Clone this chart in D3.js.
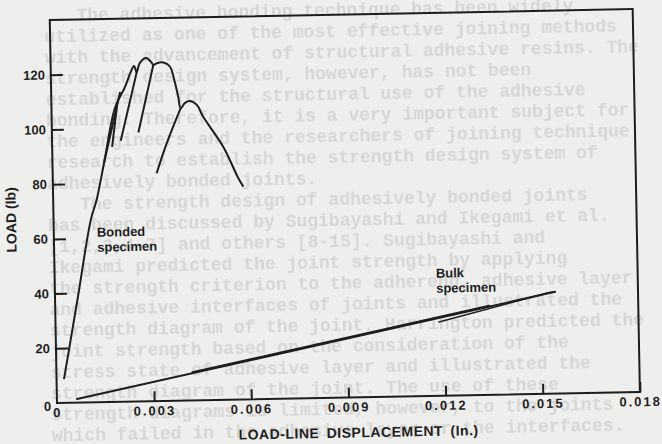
<!DOCTYPE html>
<html>
<head>
<meta charset="utf-8">
<script src="https://cdn.jsdelivr.net/npm/d3@7"></script>
<style>
  body { margin: 0; background: #eeeeec; }
  svg { display: block; }
</style>
</head>
<body>
<div id="chart"></div>
<script>
// axis ticks
var xTicks = [0, 0.003, 0.006, 0.009, 0.012, 0.015, 0.018];
var xTickLabels = ["0", "0.003", "0.006", "0.009", "0.012", "0.015", "0.018"];
var yTicks = [0, 20, 40, 60, 80, 100, 120];
var yTickLabels = ["0", "20", "40", "60", "80", "100", "120"];

// bonded specimen: displacement (in.), load (lb)
var bondedCurve = [
  [0.00023, 8.7], [0.00069, 37.5], [0.00115, 66.7], [0.00134, 73.9], [0.00159, 87.3],
  [0.00196, 107.4], [0.00228, 115.0], [0.00248, 120.8], [0.00257, 122.6], [0.00263, 120.9],
  [0.00265, 120.2], [0.00276, 123.8], [0.00295, 125.5], [0.00312, 123.7], [0.00317, 122.9],
  [0.00328, 123.5], [0.00348, 123.7], [0.00368, 122.2], [0.00383, 116.1], [0.00392, 111.1],
  [0.00399, 106.9], [0.00412, 108.7], [0.00428, 109.5], [0.00449, 108.0], [0.00468, 103.6],
  [0.00528, 92.5], [0.00573, 80.9], [0.00588, 77.8]
];
var bondedBranch1 = [[0.00212, 95.4], [0.00265, 120.2]];
var bondedBranch2 = [[0.00267, 98.3], [0.00317, 122.9]];
var bondedBranch3 = [[0.00321, 83.3], [0.00354, 94.2], [0.00399, 106.9]];
var bondedBranch4 = [[0.00159, 87.4], [0.00213, 113.2]];
var bondedBranch5 = [[0.00185, 93.2], [0.00203, 108.5]];

// bulk specimen
var bulkCurve1 = [[0.00062, 1.3], [0.01544, 37.2]];
var bulkCurve2 = [[0.01184, 27.0], [0.01519, 36.8], [0.01535, 37.1]];
var bulkCurve3 = [[0.0042, 10.3], [0.0134, 32.6]];

// page text showing under the figure
var pageLines = [
  "   The adhesive bonding technique has been widely",
  "utilized as one of the most effective joining methods",
  "with the advancement of structural adhesive resins. The",
  "strength design system, however, has not been",
  "established for the structural use of the adhesive",
  "bonding. Therefore, it is a very important subject for",
  "the engineers and the researchers of joining technique",
  "research to establish the strength design system of",
  "adhesively bonded joints.",
  "   The strength design of adhesively bonded joints",
  "has been discussed by Sugibayashi and Ikegami et al.",
  "[1,2,3,4-7] and others [8-15]. Sugibayashi and",
  "Ikegami predicted the joint strength by applying",
  "the strength criterion to the adherend, adhesive layer",
  "and adhesive interfaces of joints and illustrated the",
  "strength diagram of the joint. Harrington predicted the",
  "joint strength based on the consideration of the",
  "stress state of adhesive layer and illustrated the",
  "strength diagram of the joint. The use of these",
  "strength diagrams is limited, however, to the joints",
  "which failed in the adhesive layer or the interfaces."
];

var width = 662;
var height = 444;
var originX = 57;
var originY = 403;
var plotW = 583;
var plotH = 383;
var tilt = -1.08;
var ink = "#1e1e1e";
var sans = '"Liberation Sans", Arial, Helvetica, sans-serif';

var svg = d3.select('#chart')
  .append('svg')
  .attr('width', width)
  .attr('height', height);

svg.append('defs')
  .append('filter')
  .attr('id', 'soft')
  .append('feGaussianBlur')
  .attr('stdDeviation', 0.5);

svg.append('rect')
  .attr('width', width)
  .attr('height', height)
  .attr('fill', '#eeeeec');

svg.append('g')
  .attr('transform', 'rotate(' + tilt + ' 331 222)')
  .attr('filter', 'url(#soft)')
  .selectAll('text')
  .data(pageLines)
  .enter()
  .append('text')
  .attr('x', 48)
  .attr('y', function(d, i) { return 16 + i * 21; })
  .text(function(d) { return d; })
  .style('white-space', 'pre')
  .style('font-family', '"Liberation Mono", "DejaVu Sans Mono", monospace')
  .style('font-size', '18px')
  .style('font-weight', 'bold')
  .attr('fill', '#d6d6d4');

var g = svg.append('g')
  .attr('transform', 'translate(' + originX + ',' + originY + ') rotate(' + tilt + ')');

var x = d3.scaleLinear().domain([0, 0.018]).range([0, plotW]);
var y = d3.scaleLinear().domain([0, 140]).range([0, -plotH]);

var yAxis = g.append('g')
  .call(d3.axisLeft(y)
    .tickValues(yTicks)
    .tickSize(-12)
    .tickPadding(6)
    .tickFormat(function(d, i) { return yTickLabels[i]; }));

var xAxis = g.append('g')
  .call(d3.axisBottom(x)
    .tickValues(xTicks)
    .tickSize(-10)
    .tickPadding(5)
    .tickFormat(function(d, i) { return xTickLabels[i]; }));

[yAxis, xAxis].forEach(function(ax) {
  ax.select('.domain').remove();
  ax.selectAll('.tick line')
    .attr('stroke', ink)
    .attr('stroke-width', 2)
    .filter(function(d) { return d === 0; })
    .remove();
  ax.selectAll('.tick text')
    .attr('fill', ink)
    .style('font-family', sans)
    .style('font-size', '13px')
    .style('font-weight', 'bold');
});
xAxis.selectAll('.tick text').style('letter-spacing', '2px');
yAxis.selectAll('.tick text')
  .filter(function(d) { return d === 0; })
  .attr('dy', '0.55em');

g.append('rect')
  .attr('x', x(0))
  .attr('y', y(140))
  .attr('width', x(0.018) - x(0))
  .attr('height', y(0) - y(140))
  .attr('fill', 'none')
  .attr('stroke', ink)
  .attr('stroke-width', 2);

var smooth = d3.line()
  .x(function(d) { return x(d[0]); })
  .y(function(d) { return y(d[1]); })
  .curve(d3.curveCatmullRom.alpha(0.5));

var straight = d3.line()
  .x(function(d) { return x(d[0]); })
  .y(function(d) { return y(d[1]); });

[bondedCurve, bondedBranch1, bondedBranch2, bondedBranch3, bondedBranch4, bondedBranch5]
  .forEach(function(s) {
    g.append('path')
      .datum(s)
      .attr('d', smooth)
      .attr('fill', 'none')
      .attr('stroke', ink)
      .attr('stroke-width', 2)
      .attr('stroke-linejoin', 'round');
  });

[bulkCurve1, bulkCurve2, bulkCurve3].forEach(function(s, i) {
  g.append('path')
    .datum(s)
    .attr('d', straight)
    .attr('fill', 'none')
    .attr('stroke', ink)
    .attr('stroke-width', i === 1 ? 1.6 : 2)
    .attr('stroke-linecap', 'round');
});

function note(lines, px, py) {
  var t = g.append('text')
    .attr('x', x(px))
    .attr('y', y(py))
    .attr('fill', ink)
    .style('font-family', sans)
    .style('font-size', '13px')
    .style('font-weight', 'bold');
  lines.forEach(function(s, i) {
    t.append('tspan').attr('x', x(px)).attr('dy', i === 0 ? 0 : 15).text(s);
  });
}
note(["Bonded", "specimen"], 0.00133, 60.5);
note(["Bulk", "specimen"], 0.01177, 43.2);

g.append('text')
  .attr('x', 301)
  .attr('y', 40)
  .attr('text-anchor', 'middle')
  .attr('fill', ink)
  .style('font-family', sans)
  .style('font-size', '14px')
  .style('font-weight', 'bold')
  .style('letter-spacing', '0.5px')
  .style('word-spacing', '3px')
  .text('LOAD-LINE DISPLACEMENT (In.)');

g.append('text')
  .attr('transform', 'translate(-42.6,-183.9) rotate(-90)')
  .attr('text-anchor', 'middle')
  .attr('dominant-baseline', 'central')
  .attr('fill', ink)
  .style('font-family', sans)
  .style('font-size', '14px')
  .style('font-weight', 'bold')
  .text('LOAD (lb)');
</script>
</body>
</html>
